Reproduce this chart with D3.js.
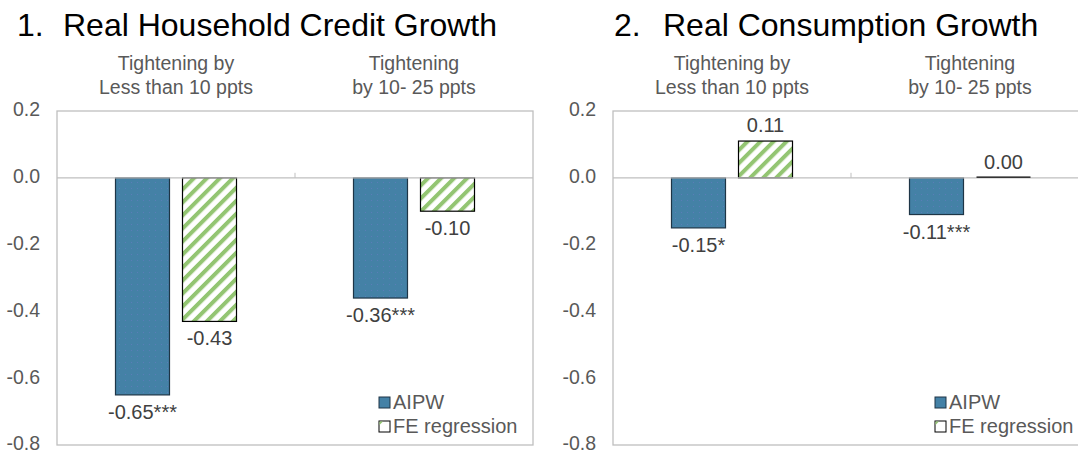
<!DOCTYPE html>
<html>
<head>
  <meta charset="utf-8">
  <script src="https://cdn.jsdelivr.net/npm/d3@7"></script>
  <style>
    body { margin: 0; background: #fff; }
    svg { display: block; font-family: "Liberation Sans", Arial, sans-serif; }
  </style>
</head>
<body>
  <svg id="chart" width="1078" height="454"></svg>
  <script>
    // data
    var categories = ['Tightening by|Less than 10 ppts', 'Tightening|by 10- 25 ppts'];
    var series = ['AIPW', 'FE regression'];
    var panelTitles = ['Real Household Credit Growth', 'Real Consumption Growth'];
    var creditAIPW = [-0.65, -0.36];
    var creditFE = [-0.43, -0.10];
    var creditLabels = [['-0.65***', '-0.36***'], ['-0.43', '-0.10']];
    var consAIPW = [-0.15, -0.11];
    var consFE = [0.11, 0.00];
    var consLabels = [['-0.15*', '-0.11***'], ['0.11', '0.00']];
    var yTicks = [0.2, 0.0, -0.2, -0.4, -0.6, -0.8];

    var panels = [
      { num: '1.', title: panelTitles[0], values: [creditAIPW, creditFE], labels: creditLabels, left: 57, numX: -40, titleX: 6 },
      { num: '2.', title: panelTitles[1], values: [consAIPW, consFE], labels: consLabels, left: 613, numX: 1, titleX: 50 }
    ];

    var fmt = d3.formatLocale({ decimal: '.', thousands: ',', grouping: [3], currency: ['', ''], minus: '-' }).format('.1f');

    var svg = d3.select('#chart');
    var defs = svg.append('defs');

    // dotted blue fill
    var dots = defs.append('pattern').attr('id', 'dots')
      .attr('patternUnits', 'userSpaceOnUse').attr('width', 6).attr('height', 6);
    dots.append('rect').attr('width', 6).attr('height', 6).attr('fill', '#4481a6');
    dots.append('rect').attr('x', 2).attr('y', 2).attr('width', 1).attr('height', 1).attr('fill', '#5a7db8');

    // green diagonal stripes
    var stripes = defs.append('pattern').attr('id', 'stripes')
      .attr('patternUnits', 'userSpaceOnUse').attr('width', 9.2).attr('height', 9.2)
      .attr('patternTransform', 'rotate(45)');
    stripes.append('rect').attr('width', 9.2).attr('height', 9.2).attr('fill', '#fff');
    stripes.append('rect').attr('width', 4).attr('height', 9.2).attr('fill', '#93c572');

    var plotW = 476, plotTop = 111, plotBottom = 445;
    var y = d3.scaleLinear().domain([-0.8, 0.2]).range([plotBottom, plotTop]);
    var fills = ['url(#dots)', 'url(#stripes)'];
    var strokes = ['#1e3546', '#000'];

    panels.forEach(function (p) {
      var g = svg.append('g').attr('transform', 'translate(' + p.left + ',0)');
      var x0 = d3.scaleBand().domain(d3.range(categories.length)).range([0, plotW]);
      var x1 = d3.scaleBand().domain(d3.range(series.length)).range([0, x0.bandwidth()])
        .paddingInner(0.194).paddingOuter(0.873);

      // title
      var t = g.append('text').attr('y', 36).attr('font-size', 32).attr('fill', '#000');
      t.append('tspan').attr('x', p.numX).text(p.num);
      t.append('tspan').attr('x', p.titleX).text(p.title);

      // category labels on top
      categories.forEach(function (c, i) {
        var lines = c.split('|');
        g.append('text').attr('text-anchor', 'middle').attr('font-size', 19.5).attr('fill', '#595959')
          .selectAll('tspan').data(lines).join('tspan')
          .attr('x', x0(i) + x0.bandwidth() / 2)
          .attr('y', function (d, k) { return 70 + k * 24; })
          .text(function (d) { return d; });
      });

      // plot frame
      g.append('rect').attr('x', 0).attr('y', plotTop).attr('width', plotW).attr('height', plotBottom - plotTop)
        .attr('fill', 'none').attr('stroke', '#bfbfbf').attr('stroke-width', 1.3);

      // y axis labels
      var yAxis = d3.axisLeft(y).tickValues(yTicks).tickSize(0).tickPadding(17).tickFormat(fmt);
      var ya = g.append('g').call(yAxis);
      ya.select('.domain').remove();
      ya.selectAll('text').attr('font-size', 19.5).attr('fill', '#595959').attr('dy', '0.25em')
        .attr('font-family', '"Liberation Sans", Arial, sans-serif');

      // bars
      series.forEach(function (s, si) {
        g.selectAll('.bar' + si).data(p.values[si]).join('rect')
          .attr('class', 'bar' + si)
          .attr('x', function (d, i) { return x0(i) + x1(si); })
          .attr('width', x1.bandwidth())
          .attr('y', function (d) { return y(Math.max(0, d)); })
          .attr('height', function (d) { return Math.abs(y(d) - y(0)); })
          .attr('fill', fills[si])
          .attr('stroke', strokes[si]).attr('stroke-width', 1.2);

        g.selectAll('.lab' + si).data(p.values[si]).join('text')
          .attr('class', 'lab' + si)
          .attr('x', function (d, i) { return x0(i) + x1(si) + x1.bandwidth() / 2; })
          .attr('y', function (d) { return d < 0 ? y(d) + 24 : y(d) - 9; })
          .attr('text-anchor', 'middle').attr('font-size', 20).attr('fill', '#404040')
          .text(function (d, i) { return p.labels[si][i]; });
      });

      // zero line and category ticks
      g.append('line').attr('x1', 0).attr('x2', plotW).attr('y1', y(0)).attr('y2', y(0))
        .attr('stroke', '#bfbfbf').attr('stroke-width', 1.3);
      g.selectAll('.ctick').data(d3.range(1, categories.length)).join('line')
        .attr('class', 'ctick')
        .attr('x1', function (i) { return x0(i); }).attr('x2', function (i) { return x0(i); })
        .attr('y1', y(0) - 5).attr('y2', y(0))
        .attr('stroke', '#bfbfbf').attr('stroke-width', 1);
      // the 0.00 bar shows as a dark line on top of the axis
      p.values[1].forEach(function (d, i) {
        if (d === 0) {
          g.append('line').attr('x1', x0(i) + x1(1)).attr('x2', x0(i) + x1(1) + x1.bandwidth())
            .attr('y1', y(0) - 0.7).attr('y2', y(0) - 0.7).attr('stroke', '#000').attr('stroke-width', 1.2);
        }
      });

      // legend
      var lg = g.append('g').attr('transform', 'translate(322,397)');
      series.forEach(function (s, si) {
        var row = lg.append('g').attr('transform', 'translate(0,' + si * 24 + ')');
        row.append('rect').attr('width', 11).attr('height', 11)
          .attr('fill', si === 0 ? '#4481a6' : '#fff')
          .attr('stroke', strokes[si]).attr('stroke-width', 1);
        if (si === 1) {
          row.append('path').attr('d', 'M0.5,4 L4,0.5 L0.5,0.5 Z').attr('fill', '#93c572');
        }
        row.append('text').attr('x', 14).attr('y', 12).attr('font-size', 20).attr('fill', '#595959').text(s);
      });
    });
  </script>
</body>
</html>
